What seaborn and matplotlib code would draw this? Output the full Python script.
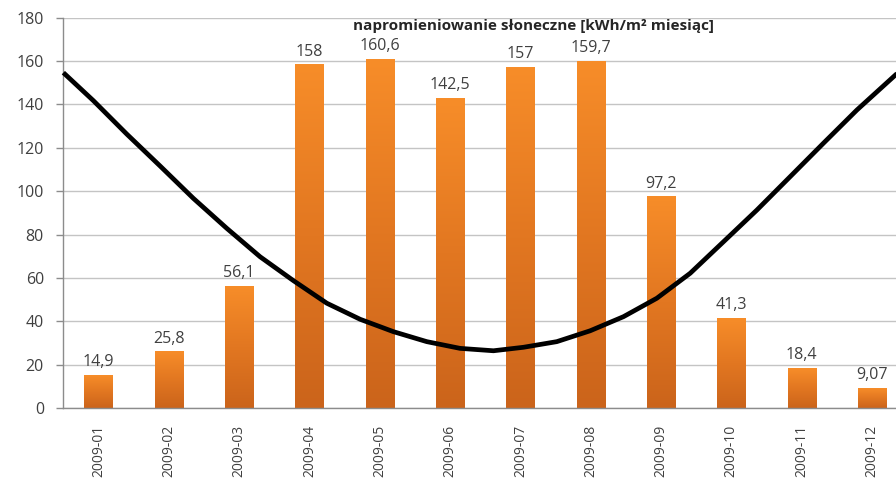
import numpy as np
import pandas as pd
import matplotlib
matplotlib.use('Agg')
import matplotlib.pyplot as plt
import seaborn as sns
from matplotlib.colors import LinearSegmentedColormap

months = ['2009-01', '2009-02', '2009-03', '2009-04', '2009-05', '2009-06',
          '2009-07', '2009-08', '2009-09', '2009-10', '2009-11', '2009-12']
irradiation = [14.9, 25.8, 56.1, 158, 160.6, 142.5, 157, 159.7, 97.2, 41.3, 18.4, 9.07]
value_labels = ['14,9', '25,8', '56,1', '158', '160,6', '142,5',
                '157', '159,7', '97,2', '41,3', '18,4', '9,07']

# black trend curve (category positions, kWh/m2)
curve_x = [-0.5, -0.073, 0.402, 0.876, 1.349, 1.824, 2.298, 2.772, 3.247, 3.721,
           4.194, 4.669, 5.143, 5.617, 6.043, 6.518, 6.992, 7.466, 7.941, 8.415,
           8.888, 9.363, 9.837, 10.31, 10.786, 11.306, 11.5]
curve_y = [154.6, 141.7, 126.3, 111.6, 96.7, 82.9, 69.8, 58.8, 48.4, 41.0,
           35.3, 30.7, 27.6, 26.5, 28.1, 30.7, 35.7, 42.2, 50.7, 62.2,
           76.7, 91.3, 106.7, 122.1, 137.4, 152.7, 158.4]

title = 'napromieniowanie słoneczne [kWh/m² miesiąc]'

sns.set_theme(style='white')
plt.rcParams['font.family'] = ['Open Sans', 'DejaVu Sans']

fig = plt.figure(figsize=(8.96, 5), dpi=100)
ax = fig.add_axes([0.0707, 0.1834, 0.9417, 0.7816])

df = pd.DataFrame({'month': months, 'value': irradiation})
sns.barplot(data=df, x='month', y='value', width=0.4, color='#E87A22', ax=ax, zorder=2)

# vertical orange gradient inside every bar
cmap = LinearSegmentedColormap.from_list('bar', ['#CB641B', '#E27721', '#F78D29'])
grad = np.linspace(0, 1, 256).reshape(-1, 1)
for p in ax.patches:
    x0, w, h = p.get_x(), p.get_width(), p.get_height()
    ax.imshow(grad, extent=[x0, x0 + w, 0, h], origin='lower', aspect='auto',
              cmap=cmap, zorder=2.1)
    p.set_facecolor('none')
    p.set_edgecolor('none')

for i, (v, lbl) in enumerate(zip(irradiation, value_labels)):
    ax.annotate(lbl, (i, v), xytext=(0, 4), textcoords='offset points',
                ha='center', va='bottom', fontsize=11.5, color='#404040', zorder=4)

ax.plot(curve_x, curve_y, color='black', lw=3.4, zorder=3,
        solid_capstyle='butt', solid_joinstyle='round', clip_on=False)

ax.set_xlim(-0.5, 11.5)
ax.set_ylim(0, 180)
ax.set_yticks(range(0, 181, 20))
ax.set_xlabel('')
ax.set_ylabel('')

ax.yaxis.grid(True, color='#C4C4C4', lw=1)
ax.set_axisbelow(True)
for s in ['top', 'right']:
    ax.spines[s].set_visible(False)
for s in ['left', 'bottom']:
    ax.spines[s].set_color('#8C8C8C')
    ax.spines[s].set_linewidth(1)

ax.set_xticks(range(12))
ax.set_xticklabels(months, rotation=90)
ax.set_xticks(np.arange(-0.5, 12, 1), minor=True)
ax.tick_params(axis='x', which='major', length=0, pad=12, labelsize=10, labelcolor='#404040')
ax.tick_params(axis='x', which='minor', length=5, width=1, color='#8C8C8C', direction='out')
ax.tick_params(axis='y', length=5, width=1, color='#8C8C8C', direction='out',
               labelsize=11.5, labelcolor='#404040', pad=9)
ax.tick_params(bottom=True, left=True)

ax.text(0.557, 0.977, title, transform=ax.transAxes, ha='center', va='center',
        fontweight='bold', fontsize=11, color='#262626', zorder=5)

fig.savefig('out.png', dpi=100)
